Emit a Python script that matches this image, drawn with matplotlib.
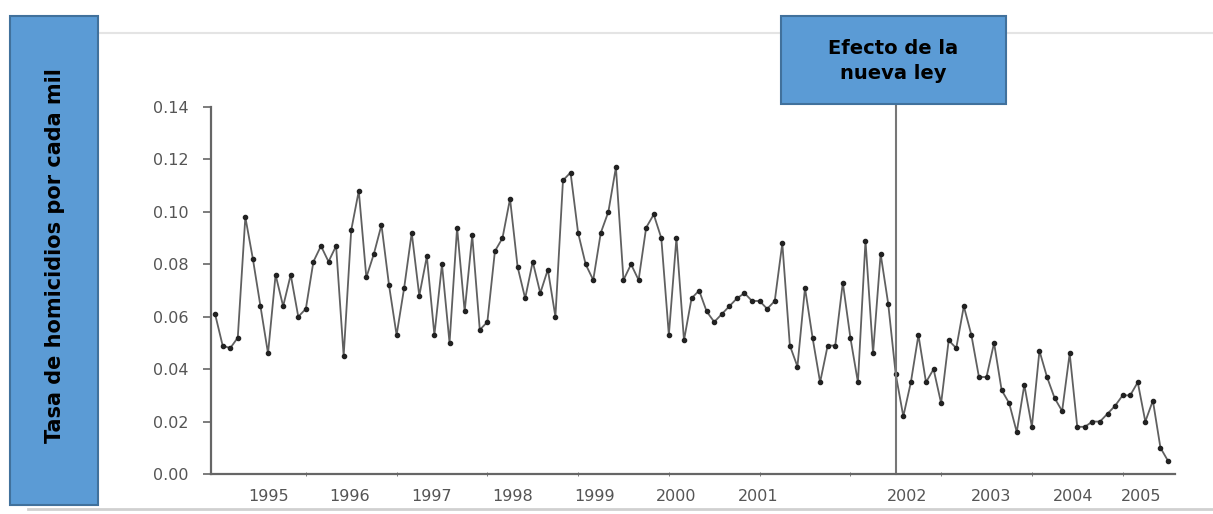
import numpy as np
import matplotlib.pyplot as plt
from matplotlib.patches import Rectangle
from matplotlib.lines import Line2D

# monthly homicide rate per thousand, starting mid 1994
rate = [
    0.061, 0.049, 0.048, 0.052, 0.098, 0.082, 0.064, 0.046, 0.076, 0.064,
    0.076, 0.060, 0.063, 0.081, 0.087, 0.081, 0.087, 0.045, 0.093, 0.108,
    0.075, 0.084, 0.095, 0.072, 0.053, 0.071, 0.092, 0.068, 0.083, 0.053,
    0.080, 0.050, 0.094, 0.062, 0.091, 0.055, 0.058, 0.085, 0.090, 0.105,
    0.079, 0.067, 0.081, 0.069, 0.078, 0.060, 0.112, 0.115, 0.092, 0.080,
    0.074, 0.092, 0.100, 0.117, 0.074, 0.080, 0.074, 0.094, 0.099, 0.090,
    0.053, 0.090, 0.051, 0.067, 0.070, 0.062, 0.058, 0.061, 0.064, 0.067,
    0.069, 0.066, 0.066, 0.063, 0.066, 0.088, 0.049, 0.041, 0.071, 0.052,
    0.035, 0.049, 0.049, 0.073, 0.052, 0.035, 0.089, 0.046, 0.084, 0.065,
    0.038, 0.022, 0.035, 0.053, 0.035, 0.040, 0.027, 0.051, 0.048, 0.064,
    0.053, 0.037, 0.037, 0.050, 0.032, 0.027, 0.016, 0.034, 0.018, 0.047,
    0.037, 0.029, 0.024, 0.046, 0.018, 0.018, 0.020, 0.020, 0.023, 0.026,
    0.030, 0.030, 0.035, 0.020, 0.028, 0.010, 0.005,
]
start_year = 1994.5
law_year = 2002.0

year_labels = ['1995', '1996', '1997', '1998', '1999', '2000',
               '2001', '2002', '2003', '2004', '2005']
# where the labels sit in the scanned figure (decimal years)
label_pos = [1995.09, 1995.98, 1996.88, 1997.78, 1998.68, 1999.58,
             2000.48, 2002.13, 2003.05, 2003.95, 2004.70]

months = start_year + np.arange(len(rate)) / 12.0

W, H = 1213, 514
fig = plt.figure(figsize=(W / 100, H / 100), dpi=100)
fig.patch.set_facecolor('white')

def fx(px):
    return px / W

def fy(py):
    return 1 - py / H

# faint card edges behind everything
fig.add_artist(Line2D([fx(98), 1], [fy(33), fy(33)], color='#e4e4e4', lw=1.5,
                      zorder=0))
fig.add_artist(Line2D([fx(28), 1], [fy(509), fy(509)], color='#d0d0d0', lw=2,
                      zorder=0))

ax = fig.add_axes([fx(211), fy(474), fx(1175) - fx(211), fy(107) - fy(474)])
ax.plot(months, rate, color='#606060', lw=1.3, marker='o', ms=3,
        mfc='#222222', mec='#222222')
ax.set_ylim(0, 0.14)
ax.set_xlim(start_year - 0.045, months[-1] + 0.077)
ax.set_yticks(np.arange(0, 0.141, 0.02))
ax.yaxis.set_major_formatter(plt.FuncFormatter(lambda v, p: f'{v:.2f}'))

ax.set_xticks(label_pos)
ax.set_xticklabels(year_labels)
ax.set_xticks(np.arange(1995.5, 2005, 1.0), minor=True)
ax.tick_params(axis='x', which='major', length=0, pad=11,
               labelsize=11.5, labelcolor='#555555')
ax.tick_params(axis='x', which='minor', length=3, direction='inout',
               color='#666666')
ax.tick_params(axis='y', length=6, width=1.2, color='#666666', pad=10,
               labelsize=11.5, labelcolor='#555555')

for side in ('top', 'right'):
    ax.spines[side].set_visible(False)
for side in ('left', 'bottom'):
    ax.spines[side].set_color('#666666')
    ax.spines[side].set_linewidth(1.6)

# law line, from under the label box down to the axis
ax.axvline(law_year, ymin=0, ymax=(474 - 104) / (474 - 107),
           color='#777777', lw=1.5, clip_on=False)

box_face = '#5b9bd5'
box_edge = '#41719c'

fig.add_artist(Rectangle((fx(10), fy(505)), fx(98) - fx(10), fy(16) - fy(505),
                         facecolor=box_face, edgecolor=box_edge, lw=1.5,
                         zorder=3))
fig.text(fx(55), fy(256), 'Tasa de homicidios por cada mil', rotation=90,
         ha='center', va='center', fontsize=15, fontweight='bold',
         family='DejaVu Sans', color='black', zorder=4)

fig.add_artist(Rectangle((fx(781), fy(104)), fx(1006) - fx(781), fy(16) - fy(104),
                         facecolor=box_face, edgecolor=box_edge, lw=1.5,
                         zorder=3))
fig.text(fx(893), fy(61), 'Efecto de la\nnueva ley', ha='center', va='center',
         fontsize=14, fontweight='bold', family='DejaVu Sans', color='black',
         linespacing=1.35, zorder=4)

fig.savefig('out.png', dpi=100)
